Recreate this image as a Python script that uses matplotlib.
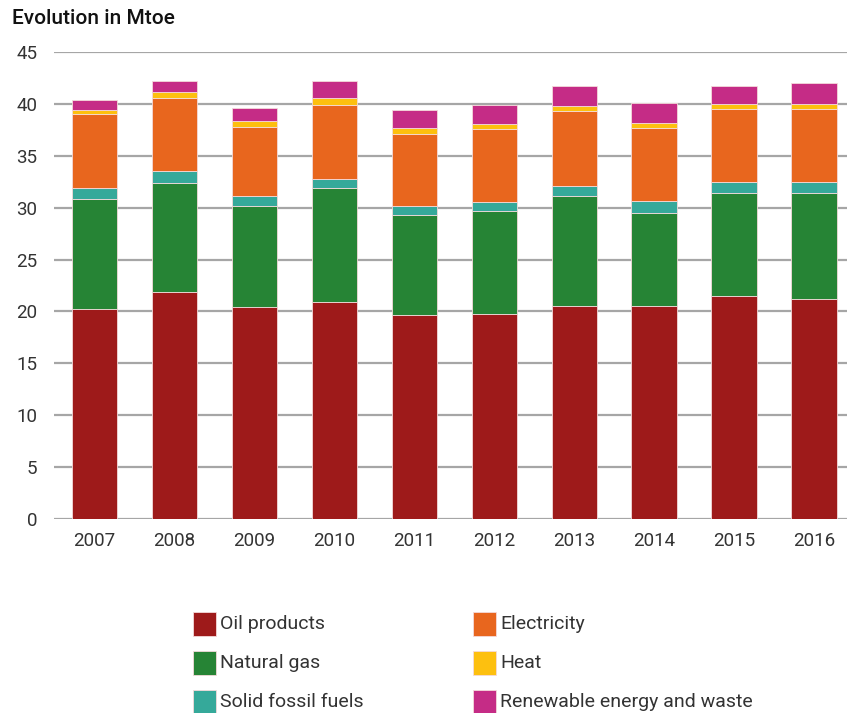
import numpy as np
import matplotlib.pyplot as plt
from matplotlib.patches import Rectangle

plt.rcParams['font.family'] = ['Roboto', 'DejaVu Sans']

years = ["2007", "2008", "2009", "2010", "2011", "2012", "2013", "2014", "2015", "2016"]
oil = [20.25, 21.9, 20.4, 20.9, 19.65, 19.77, 20.5, 20.5, 21.53, 21.18]
gas = [10.58, 10.45, 9.8, 10.96, 9.68, 9.94, 10.6, 9.0, 9.91, 10.26]
solid = [1.02, 1.18, 0.93, 0.9, 0.83, 0.87, 0.99, 1.15, 1.02, 0.99]
electricity = [7.13, 7.03, 6.65, 7.15, 6.94, 6.97, 7.19, 7.02, 7.03, 7.03]
heat = [0.42, 0.54, 0.57, 0.62, 0.6, 0.53, 0.55, 0.51, 0.48, 0.51]
renewable = [0.93, 1.06, 1.28, 1.72, 1.67, 1.82, 1.91, 1.86, 1.79, 2.04]

series = [oil, gas, solid, electricity, heat, renewable]
labels = ["Oil products", "Natural gas", "Solid fossil fuels",
          "Electricity", "Heat", "Renewable energy and waste"]
colors = ["#9E1A1A", "#268435", "#35A99A", "#E8661E", "#FDC00F", "#C52C86"]

W, H = 847, 713
fig = plt.figure(figsize=(W / 100, H / 100), dpi=100)
ax = fig.add_axes([54 / W, 1 - 519 / H, 1 - 54 / W, (519 - 52) / H])

x = np.arange(len(years))
bottom = np.zeros(len(years))
for vals, col in zip(series, colors):
    ax.bar(x, vals, width=0.57, bottom=bottom, color=col,
           edgecolor="#f4dada", linewidth=0.6, zorder=3)
    bottom += np.array(vals)

ax.set_xlim(-0.506, 9.41)
ax.set_ylim(0, 45)
ax.set_yticks(np.arange(0, 46, 5))
ax.set_xticks(x)
ax.set_xticklabels(years)
ax.grid(axis="y", color="#a6a6a6", linewidth=1.6, zorder=0)
ax.set_axisbelow(True)
for s in ax.spines.values():
    s.set_visible(False)
ax.tick_params(axis="both", length=0, labelsize=13.5, colors="#333333")
ax.tick_params(axis="y", pad=12)
ax.tick_params(axis="x", pad=9)

fig.text(12 / W, 1 - 19 / H, "Evolution in Mtoe", fontsize=15,
         fontweight="medium", color="#111111", va="center", ha="left")

# legend, two columns
col_x = [193, 473]
row_y = [624, 663, 702]
for i, (lab, col) in enumerate(zip(labels, colors)):
    cx = col_x[i // 3]
    cy = row_y[i % 3]
    fig.patches.append(Rectangle((cx / W, 1 - (cy + 12) / H), 23 / W, 24 / H,
                                 transform=fig.transFigure, facecolor=col,
                                 edgecolor="#f4dada", linewidth=0.6))
    fig.text((cx + 27) / W, 1 - cy / H, lab, fontsize=14, color="#333333",
             va="center", ha="left")

fig.savefig("out.png", dpi=100)
